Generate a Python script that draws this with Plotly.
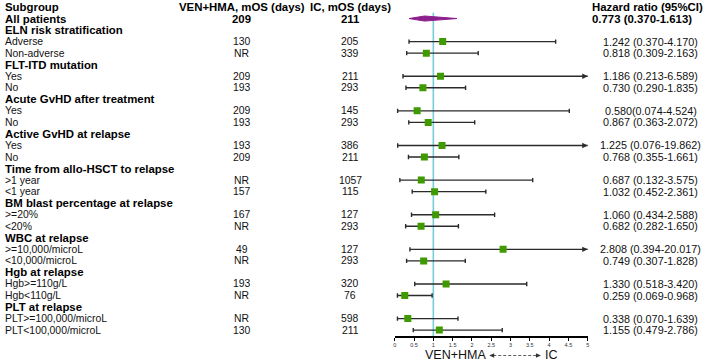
import plotly.graph_objects as go

# ---------------- data ----------------
col_headers = ["Subgroup", "VEN+HMA, mOS (days)", "IC, mOS (days)", "Hazard ratio (95%CI)"]

subgroups = ["All patients", "ELN risk stratification", "Adverse", "Non-adverse",
             "FLT-ITD mutation", "Yes", "No",
             "Acute GvHD after treatment", "Yes", "No",
             "Active GvHD at relapse", "Yes", "No",
             "Time from allo-HSCT to relapse", "&gt;1 year", "&lt;1 year",
             "BM blast percentage at relapse", "&gt;=20%", "&lt;20%",
             "WBC at relapse", "&gt;=10,000/microL", "&lt;10,000/microL",
             "Hgb at relapse", "Hgb&gt;=110g/L", "Hgb&lt;110g/L",
             "PLT at relapse", "PLT&gt;=100,000/microL", "PLT&lt;100,000/microL"]

ven_mos = ["209", None, "130", "NR", None, "209", "193", None, "209", "193", None,
           "193", "209", None, "NR", "157", None, "167", "NR", None, "49", "NR",
           None, "193", "NR", None, "NR", "130"]

ic_mos = ["211", None, "205", "339", None, "211", "293", None, "145", "293", None,
          "386", "211", None, "1057", "115", None, "127", "293", None, "127", "293",
          None, "320", "76", None, "598", "211"]

hr = [0.773, None, 1.242, 0.818, None, 1.186, 0.730, None, 0.580, 0.867, None,
      1.225, 0.768, None, 0.687, 1.032, None, 1.060, 0.682, None, 2.808, 0.749,
      None, 1.330, 0.259, None, 0.338, 1.155]

ci_lo = [0.370, None, 0.370, 0.309, None, 0.213, 0.290, None, 0.074, 0.363, None,
         0.076, 0.355, None, 0.132, 0.452, None, 0.434, 0.282, None, 0.394, 0.307,
         None, 0.518, 0.069, None, 0.070, 0.479]

ci_hi = [1.613, None, 4.170, 2.163, None, 6.589, 1.835, None, 4.524, 2.072, None,
         19.862, 1.661, None, 3.575, 2.361, None, 2.588, 1.650, None, 20.017, 1.828,
         None, 3.420, 0.968, None, 1.639, 2.786]

hr_text = ["0.773 (0.370-1.613)", None, "1.242 (0.370-4.170)", "0.818 (0.309-2.163)", None,
           "1.186 (0.213-6.589)", "0.730 (0.290-1.835)", None,
           "0.580(0.074-4.524)", "0.867 (0.363-2.072)", None,
           "1.225 (0.076-19.862)", "0.768 (0.355-1.661)", None,
           "0.687 (0.132-3.575)", "1.032 (0.452-2.361)", None,
           "1.060 (0.434-2.588)", "0.682 (0.282-1.650)", None,
           "2.808 (0.394-20.017)", "0.749 (0.307-1.828)", None,
           "1.330 (0.518-3.420)", "0.259 (0.069-0.968)", None,
           "0.338 (0.070-1.639)", "1.155 (0.479-2.786)"]

tick_vals = [0, 0.5, 1, 1.5, 2, 2.5, 3, 3.5, 4, 4.5, 5]
tick_text = ["0", "0.5", "1", "1.5", "2", "2.5", "3", "3.5", "4", "4.5", "5"]
x_label_left = "VEN+HMA"
x_label_right = "IC"

# ---------------- layout helpers ----------------
W, H = 708, 363
XMAX = 5
FONT = "Liberation Sans, Arial, sans-serif"
GREEN = "#3f9a00"
PURPLE = "#8d1f8c"
TEAL = "#76cdd8"
LINE = "#2b2b2b"

rows = list(range(1, len(subgroups) + 1))
Y_TOP = -0.607
Y_BOT = 28.51
PLOT_H = 336.0

def px(x):
    return x / W

fig = go.Figure()

# CI lines with caps
sx, sy, ep, em = [], [], [], []
for i, r in enumerate(rows):
    if hr[i] is None or i == 0:
        continue
    sx.append(hr[i]); sy.append(r)
    ep.append(ci_hi[i] - hr[i]); em.append(hr[i] - ci_lo[i])

fig.add_trace(go.Scatter(
    x=sx, y=sy, mode="markers",
    marker=dict(symbol="square", size=7, color=GREEN),
    error_x=dict(type="data", symmetric=False, array=ep, arrayminus=em,
                 color=LINE, thickness=1.4, width=2.2),
    showlegend=False, hoverinfo="skip"))

# overall diamond
h = 0.22
fig.add_trace(go.Scatter(
    x=[ci_lo[0], hr[0], ci_hi[0], hr[0], ci_lo[0]],
    y=[rows[0], rows[0] - h, rows[0], rows[0] + h, rows[0]],
    mode="lines", fill="toself", fillcolor=PURPLE,
    line=dict(color=PURPLE, width=1), showlegend=False, hoverinfo="skip"))

# reference line at HR = 1
fig.add_shape(type="line", x0=1, x1=1, y0=0.49, y1=Y_BOT, xref="x", yref="y",
              line=dict(color=TEAL, width=1.6), layer="below")

annotations = []

# arrows for CIs exceeding axis
for i, r in enumerate(rows):
    if ci_hi[i] is not None and ci_hi[i] > XMAX:
        annotations.append(dict(x=XMAX, y=r, xref="x", yref="y", ax=-7, ay=0,
                                showarrow=True, arrowhead=2, arrowsize=0.9,
                                arrowwidth=1.2, arrowcolor=LINE, text=""))

hdr_font = dict(family=FONT, size=11.4, color="black")
norm_font = dict(family=FONT, size=10.4, color="#111111")
hr_font = dict(family=FONT, size=10.8, color="#111111")

def add_text(xpix, y, text, font, anchor):
    annotations.append(dict(x=px(xpix), y=y, xref="paper", yref="y", xanchor=anchor,
                            yanchor="middle", text=text, showarrow=False, font=font,
                            borderpad=0))

# column headers
add_text(2, 0, "<b>%s</b>" % col_headers[0], hdr_font, "left")
add_text(241, 0, "<b>%s</b>" % col_headers[1], hdr_font, "center")
add_text(350, 0, "<b>%s</b>" % col_headers[2], hdr_font, "center")
add_text(592, 0, "<b>%s</b>" % col_headers[3], hdr_font, "left")

for i, r in enumerate(rows):
    bold = hr[i] is None or i == 0
    f = hdr_font if bold else norm_font
    wrap = (lambda s: "<b>%s</b>" % s) if bold else (lambda s: s)
    add_text(2, r, wrap(subgroups[i]), f, "left")
    if ven_mos[i] is not None:
        add_text(241, r, wrap(ven_mos[i]), f, "center")
    if ic_mos[i] is not None:
        add_text(350, r, wrap(ic_mos[i]), f, "center")
    if hr_text[i] is not None:
        if i == 0:
            add_text(592, r, "<b>%s</b>" % hr_text[i], hdr_font, "left")
        else:
            add_text(652.5, r, hr_text[i], hr_font, "center")

# bottom direction label
ylab = -19.5 / PLOT_H
lab_font = dict(family=FONT, size=12.5, color="#111111")
annotations.append(dict(x=px(488), y=ylab, xref="paper", yref="paper",
                        xanchor="right", yanchor="middle", text=x_label_left,
                        showarrow=False, font=lab_font, borderpad=0))
annotations.append(dict(x=px(545), y=ylab, xref="paper", yref="paper",
                        xanchor="left", yanchor="middle", text=x_label_right,
                        showarrow=False, font=lab_font, borderpad=0))
fig.add_shape(type="line", x0=px(494), x1=px(538), y0=ylab, y1=ylab,
              xref="paper", yref="paper", line=dict(color="#333", width=0.8, dash="3px,2px"))

# small arrowheads of the direction label (paper coordinates)
ah_w = 5 / W
ah_h = 2.2 / PLOT_H
xl, xr = px(490), px(542)
fig.add_shape(type="path", xref="paper", yref="paper",
              path="M %f,%f L %f,%f L %f,%f Z" % (xl, ylab, xl + ah_w, ylab + ah_h, xl + ah_w, ylab - ah_h),
              fillcolor="#333", line=dict(width=0))
fig.add_shape(type="path", xref="paper", yref="paper",
              path="M %f,%f L %f,%f L %f,%f Z" % (xr, ylab, xr - ah_w, ylab + ah_h, xr - ah_w, ylab - ah_h),
              fillcolor="#333", line=dict(width=0))

fig.update_layout(
    width=W, height=H,
    margin=dict(l=0, r=0, t=0, b=H - PLOT_H, pad=0),
    paper_bgcolor="white", plot_bgcolor="white",
    annotations=annotations,
    xaxis=dict(domain=[395 / W, 589 / W], range=[0, XMAX], showgrid=False, zeroline=False,
               showline=True, linecolor="black", linewidth=1.5,
               ticks="outside", ticklen=3, tickwidth=1, tickcolor="black",
               tickvals=tick_vals, ticktext=tick_text,
               tickfont=dict(family=FONT, size=5.5, color="#333333")),
    yaxis=dict(range=[Y_BOT, Y_TOP], visible=False, showgrid=False, zeroline=False),
    showlegend=False,
)

fig.write_html("out.html", config={"displayModeBar": False},
               post_script="document.body.style.margin='0';document.body.style.padding='0';")
